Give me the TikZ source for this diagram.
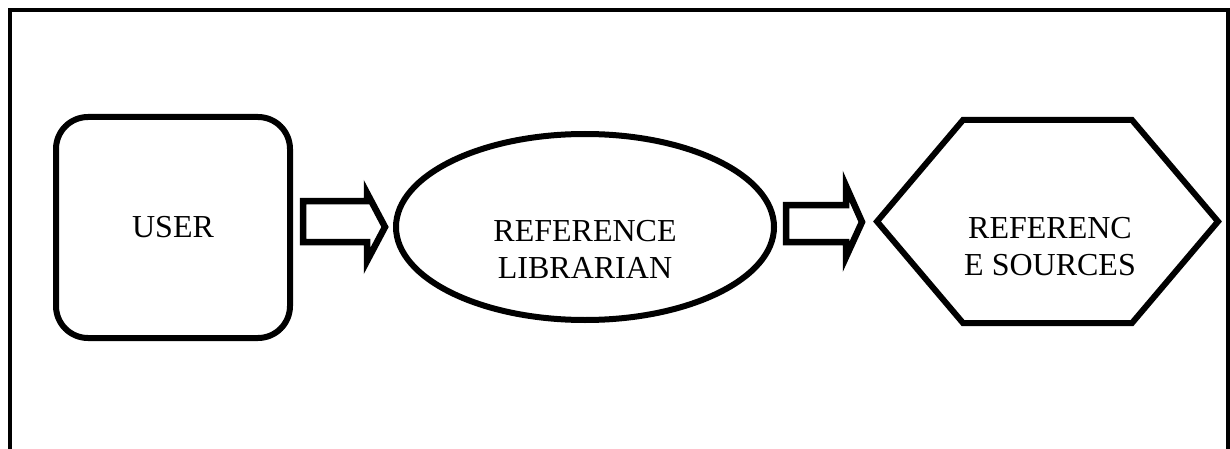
\documentclass[tikz,border=0pt]{standalone}
\usepackage{fontspec}
\setmainfont{Liberation Serif}
\usetikzlibrary{shapes.geometric}
\tikzset{
  shapeline/.style={draw=black, line width=6pt, line join=miter},
  lbl/.style={font=\fontsize{32}{37}\selectfont, align=center, inner sep=0pt},
  blockarrow/.style={draw=black, line width=6.5pt, line join=miter, miter limit=10},
}
\begin{document}
\begin{tikzpicture}[x=1pt,y=-1pt]
\useasboundingbox (0,0) rectangle (1230,449);
% outer frame (open at bottom)
\draw[line width=4pt] (10,449) -- (10,10.5) -- (1228,10.5) -- (1228,449);
% user box
\node[shapeline, rounded corners=32pt, minimum width=234pt, minimum height=221pt, lbl] (user) at (173,227.5) {USER};
% librarian ellipse
\node[shapeline, ellipse, minimum width=378pt, minimum height=186pt, inner sep=0pt] (lib) at (585,227) {};
\node[lbl] (libtext) at (585,249) {REFERENCE\\LIBRARIAN};
% sources hexagon
\coordinate (h1) at (877,221.5);
\coordinate (h2) at (963,120);
\coordinate (h3) at (1132,120);
\coordinate (h4) at (1218,221.5);
\coordinate (h5) at (1132,323);
\coordinate (h6) at (963,323);
\draw[shapeline] (h1) -- (h2) -- (h3) -- (h4) -- (h5) -- (h6) -- cycle;
\node[lbl] (srctext) at (1050,247) {REFERENC\\E SOURCES};
% block arrows
\draw[blockarrow] (303,201) -- (367,201) -- (367,193) -- (385,227) -- (367,261) -- (367,242) -- (303,242) -- cycle;
\draw[blockarrow] (786,205) -- (846,205) -- (846,186) -- (862,222) -- (846,257) -- (846,242) -- (786,242) -- cycle;
\end{tikzpicture}
\end{document}
